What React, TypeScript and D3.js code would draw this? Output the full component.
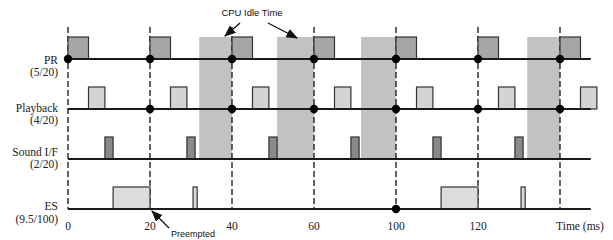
import * as d3 from "d3";

const WIDTH = 613;
const HEIGHT = 240;

// task rows, top to bottom
const taskNames = ["PR", "Playback", "Sound I/F", "ES"];
const taskRates = ["(5/20)", "(4/20)", "(2/20)", "(9.5/100)"];

// execution intervals in ms (start, end)
const prJobs: [number, number][] = [[0, 5], [20, 25], [40, 45], [60, 65], [80, 85], [100, 105], [120, 125]];
const playbackJobs: [number, number][] = [[5, 9], [25, 29], [45, 49], [65, 69], [85, 89], [105, 109], [125, 129]];
const soundJobs: [number, number][] = [[9, 11], [29, 31], [49, 51], [69, 71], [89, 91], [109, 111]];
const esJobs: [number, number][] = [[11, 20], [30.5, 31.5], [91, 100], [110.5, 111.5]];

// release points (dots)
const prReleases = [0, 20, 40, 60, 80, 100, 120];
const playbackReleases = [20, 40, 60, 80, 100, 120];
const soundReleases: number[] = [];
const esReleases = [80];

const idleSpans: [number, number][] = [[32, 40], [51, 60], [71.5, 80], [112, 120]];
const periodMarks = [0, 20, 40, 60, 80, 100, 120];
const tickValues = [0, 20, 40, 60, 80, 100];
const tickLabels = ["0", "20", "40", "60", "100", "120"];
const timeEnd = 127.5;

const jobsByRow = [prJobs, playbackJobs, soundJobs, esJobs];
const releasesByRow = [prReleases, playbackReleases, soundReleases, esReleases];
const fills = ["#a6a6a6", "#d4d4d4", "#8a8a8a", "#dcdcdc"];
const nameDy = [5, 3, -3, 1];
const rateDy = [17, 15, 9, 14];

const serif = "'Liberation Serif', 'DejaVu Serif', serif";
const sans = "'Liberation Sans', Arial, sans-serif";

export default function App() {
  const x = d3.scaleLinear().domain([0, 120]).range([68, 560]);
  const y = d3.scalePoint<string>().domain(taskNames).range([59, 209]);
  const boxH = 22;
  const top = y("PR")! - boxH;
  const soundY = y("Sound I/F")!;
  const esY = y("ES")!;

  return (
    <svg width={WIDTH} height={HEIGHT} style={{ position: "absolute", left: 0, top: 0, background: "#fff" }}>
      <defs>
        <marker id="head" viewBox="0 0 10 10" refX="9" refY="5" markerWidth="9" markerHeight="9" orient="auto">
          <path d="M0,1 L10,5 L0,9 Z" fill="#111" />
        </marker>
      </defs>

      {idleSpans.map(([a, b], i) => (
        <rect key={i} x={x(a)} y={top} width={x(b) - x(a)} height={soundY - top} fill="#c2c2c2" />
      ))}

      {periodMarks.map((t) => (
        <line key={t} x1={x(t)} x2={x(t)} y1={27} y2={esY} stroke="#222" strokeWidth={1.4} strokeDasharray="6,3" />
      ))}

      {taskNames.map((name, r) => {
        const ry = y(name)!;
        return (
          <g key={name}>
            {jobsByRow[r].map(([a, b], i) => (
              <rect key={i} x={x(a)} y={ry - boxH} width={x(b) - x(a)} height={boxH} fill={fills[r]} stroke="#333" strokeWidth={1.2} />
            ))}
            <line x1={x(0)} x2={x(timeEnd)} y1={ry} y2={ry} stroke="#1a1a1a" strokeWidth={2} />
            {releasesByRow[r].map((t) => (
              <circle key={t} cx={x(t)} cy={ry} r={4.2} fill="#000" />
            ))}
            <text x={58} y={ry + nameDy[r]} textAnchor="end" fontFamily={serif} fontSize={11.5} fill="#222">
              {name}
            </text>
            <text x={58} y={ry + rateDy[r]} textAnchor="end" fontFamily={serif} fontSize={11.5} fill="#222">
              {taskRates[r]}
            </text>
          </g>
        );
      })}

      {tickValues.map((t, i) => (
        <text key={t} x={x(t)} y={230} textAnchor="middle" fontFamily={serif} fontSize={11.5} fill="#222">
          {tickLabels[i]}
        </text>
      ))}
      <text x={580} y={230} textAnchor="middle" fontFamily={serif} fontSize={11.5} fill="#222">
        Time (ms)
      </text>

      <text x={252} y={16} textAnchor="middle" fontFamily={sans} fontSize={9.5} fill="#111">
        CPU Idle Time
      </text>
      <line x1={240} y1={23} x2={225} y2={36} stroke="#111" strokeWidth={1.3} markerEnd="url(#head)" />
      <line x1={268} y1={23} x2={297} y2={38} stroke="#111" strokeWidth={1.3} markerEnd="url(#head)" />

      <line x1={169} y1={228} x2={152} y2={211} stroke="#111" strokeWidth={1.3} markerEnd="url(#head)" />
      <text x={171} y={237} fontFamily={sans} fontSize={9} fill="#111">
        Preempted
      </text>
    </svg>
  );
}
